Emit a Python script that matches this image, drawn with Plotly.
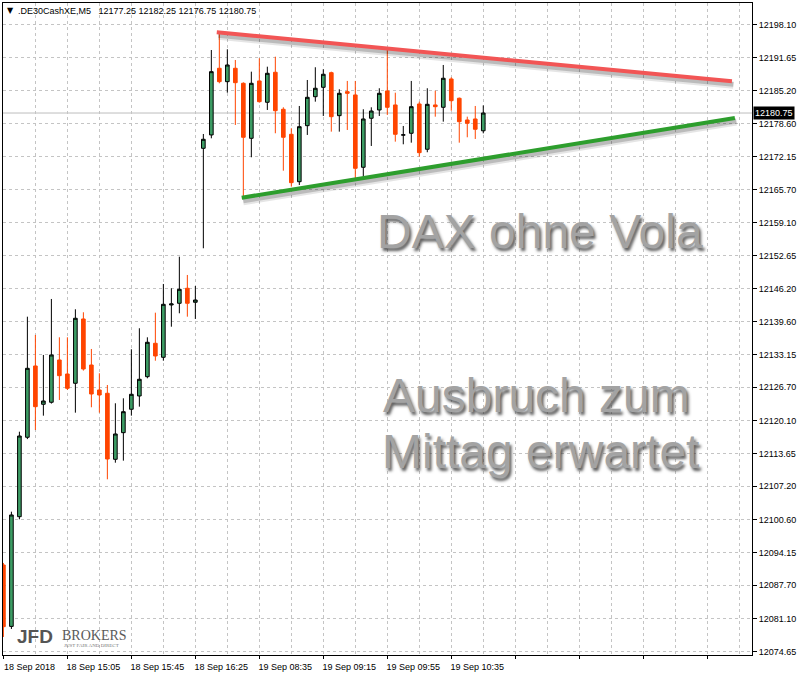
import plotly.graph_objects as go
import pandas as pd

# ---------------- data ----------------
day1_times = pd.date_range("2018-09-18 14:25", periods=25, freq="5min")
day2_times = pd.date_range("2018-09-19 08:00", periods=36, freq="5min")
bar_times = list(day1_times) + list(day2_times)

opens = [12091.70, 12079.60, 12101.21, 12116.86, 12130.91, 12123.36, 12123.76, 12132.09, 12129.33, 12127.50,
         12140.17, 12131.10, 12126.18, 12125.53, 12112.52, 12117.77, 12122.38, 12125.00, 12128.80, 12135.38,
         12132.62, 12142.93, 12143.26, 12146.22, 12143.46,
         12173.80, 12176.43, 12189.57, 12186.93, 12189.57, 12186.61, 12175.77, 12187.07, 12182.87, 12188.78,
         12181.49, 12176.56, 12167.22, 12178.26, 12183.97, 12185.82, 12188.70, 12180.23, 12184.96, 12184.31,
         12170.06, 12179.72, 12181.35, 12185.10, 12182.34, 12176.40, 12176.76, 12182.53, 12173.61, 12182.34,
         12181.88, 12187.46, 12183.66, 12179.38, 12179.58, 12177.25]
highs = [12092.10, 12102.20, 12117.96, 12140.62, 12137.02, 12133.08, 12144.11, 12136.56, 12136.56, 12142.08,
         12141.49, 12134.26, 12129.47, 12127.16, 12123.56, 12124.54, 12134.20, 12138.34, 12136.56, 12141.41,
         12147.07, 12146.22, 12152.44, 12148.84, 12146.67,
         12176.62, 12193.17, 12196.46, 12193.31, 12191.20, 12186.80, 12188.90, 12191.54, 12189.88, 12191.85,
         12181.88, 12177.75, 12182.14, 12187.26, 12189.77, 12189.37, 12188.90, 12185.43, 12187.07, 12187.07,
         12181.49, 12181.88, 12185.63, 12193.31, 12184.76, 12178.20, 12187.07, 12182.99, 12185.63, 12185.15,
         12190.22, 12187.79, 12183.80, 12180.03, 12182.14, 12182.25]
lows = [12077.51, 12079.09, 12100.70, 12116.50, 12118.30, 12121.12, 12123.50, 12124.21, 12126.18, 12121.71,
        12130.00, 12122.77, 12121.71, 12108.58, 12111.85, 12112.25, 12121.12, 12122.89, 12128.48, 12131.95,
        12131.95, 12138.65, 12141.29, 12140.62, 12140.17,
        12154.10, 12175.77, 12186.61, 12184.76, 12178.40, 12164.27, 12172.03, 12182.80, 12181.35, 12176.76,
        12169.39, 12166.24, 12166.57, 12176.43, 12182.99, 12180.17, 12177.08, 12177.08, 12177.41, 12167.89,
        12168.21, 12174.26, 12180.17, 12180.37, 12175.11, 12174.59, 12174.91, 12172.15, 12173.02, 12180.03,
        12179.05, 12181.21, 12174.91, 12175.97, 12175.64, 12176.75]
closes = [12079.54, 12101.55, 12117.11, 12130.45, 12122.89, 12124.01, 12133.08, 12129.00, 12126.51, 12140.31,
          12130.32, 12125.39, 12125.19, 12112.58, 12117.51, 12121.90, 12125.33, 12128.29, 12135.58, 12132.88,
          12143.06, 12143.13, 12146.02, 12143.26, 12143.91,
          12175.58, 12188.90, 12186.93, 12190.22, 12186.73, 12175.97, 12186.61, 12182.99, 12188.58, 12181.21,
          12175.97, 12167.03, 12178.06, 12183.85, 12185.63, 12188.39, 12180.03, 12184.64, 12184.64, 12169.86,
          12179.58, 12181.15, 12184.64, 12181.88, 12176.56, 12176.45, 12182.00, 12172.94, 12182.47, 12182.00,
          12187.60, 12183.18, 12179.05, 12178.73, 12177.55, 12180.75]

price_ticks = [12198.10, 12191.65, 12185.20, 12178.60, 12172.15, 12165.70, 12159.10, 12152.65, 12146.20,
               12139.60, 12133.15, 12126.70, 12120.10, 12113.65, 12107.20, 12100.60, 12094.15, 12087.70,
               12081.10, 12074.65]
time_tick_labels = ["18 Sep 2018", "18 Sep 15:05", "18 Sep 15:45", "18 Sep 16:25",
                    "19 Sep 08:35", "19 Sep 09:15", "19 Sep 09:55", "19 Sep 10:35"]

last_price = 12180.75
header_text = ".DE30CashXE,M5\u00a0\u00a0 12177.25 12182.25 12176.75 12180.75"

# trend lines (bar index, price)
upper_line = [(26.68, 12196.66), (91.09, 12186.99)]
lower_line = [(29.80, 12164.07), (91.46, 12179.76)]

# ---------------- figure ----------------
x_idx = list(range(len(bar_times)))
n_future = 94
x_range = [-0.05, 93.6]
y_range = [12073.96, 12202.43]

GREEN = "#3c9c64"
RED = "#ff4500"
GRID = "#c4c4c4"
FONT = "Liberation Sans, Arial, sans-serif"

fig = go.Figure()
fig.add_trace(go.Candlestick(
    x=x_idx, open=opens, high=highs, low=lows, close=closes,
    increasing=dict(fillcolor=GREEN, line=dict(color="black", width=1)),
    decreasing=dict(fillcolor=RED, line=dict(color=RED, width=1)),
    whiskerwidth=0, showlegend=False, hoverinfo="skip",
))

# last price line
fig.add_shape(type="line", xref="paper", x0=0, x1=1, yref="y", y0=last_price, y1=last_price,
              line=dict(color="#bdbdbd", width=1), layer="below")

# trend lines with soft shadow
px_per_x = 8.0
px_per_y = 652 / (y_range[1] - y_range[0])
for line, color in [(upper_line, "#f25555"), (lower_line, "#2d9e2d")]:
    (xa, ya), (xb, yb) = line
    for off, alpha, w in [(4, 0.10, 7), (3, 0.18, 5)]:
        fig.add_shape(type="line", x0=xa + 1.5 / px_per_x, y0=ya - off / px_per_y,
                      x1=xb + 1.5 / px_per_x, y1=yb - off / px_per_y,
                      line=dict(color=f"rgba(0,0,0,{alpha})", width=w))
    fig.add_shape(type="line", x0=xa, y0=ya, x1=xb, y1=yb, line=dict(color=color, width=4))

big_font = dict(family=FONT, size=48, color="#a3a3a3", shadow="2px 3px 3px rgba(40,40,40,0.75)")
fig.add_annotation(x=67.1, y=12157.4, xref="x", yref="y", text="DAX ohne Vola", showarrow=False,
                   font=big_font, xanchor="center", yanchor="middle")
fig.add_annotation(x=66.6, y=12125.0, xref="x", yref="y", text="Ausbruch zum", showarrow=False,
                   font=big_font, xanchor="center", yanchor="middle")
fig.add_annotation(x=67.2, y=12114.1, xref="x", yref="y", text="Mittag erwartet", showarrow=False,
                   font=big_font, xanchor="center", yanchor="middle")

# header
fig.add_annotation(xref="paper", yref="paper", x=0, y=1, xanchor="left", yanchor="top",
                   xshift=2, yshift=-1, text="\u25bc", showarrow=False,
                   font=dict(family="DejaVu Sans", size=8, color="black"))
fig.add_annotation(xref="paper", yref="paper", x=0, y=1, xanchor="left", yanchor="top",
                   xshift=13, yshift=-1, text=header_text, showarrow=False,
                   font=dict(family=FONT, size=9, color="black"))

# current price label
fig.add_annotation(xref="paper", yref="y", x=1, y=last_price, xanchor="left", yanchor="middle",
                   xshift=1, text=f"{last_price:.2f}", showarrow=False, bgcolor="black",
                   borderpad=1, font=dict(family=FONT, size=9, color="white"))

# logo
fig.add_annotation(xref="paper", yref="paper", x=0, y=0, xanchor="left", yanchor="bottom",
                   xshift=12, yshift=6, text="<b>JFD</b>", showarrow=False,
                   font=dict(family=FONT, size=19, color="#555555"))
fig.add_annotation(xref="paper", yref="paper", x=0, y=0, xanchor="left", yanchor="bottom",
                   xshift=57, yshift=10, text="BROKERS", showarrow=False,
                   font=dict(family="Liberation Serif, serif", size=14, color="#5a5a5a"))
fig.add_annotation(xref="paper", yref="paper", x=0, y=0, xanchor="left", yanchor="bottom",
                   xshift=59, yshift=5, text="JUST FAIR AND DIRECT", showarrow=False,
                   font=dict(family="Liberation Serif, serif", size=5, color="#777777"))

major_x = list(range(0, n_future, 8))
major_text = [time_tick_labels[i] if i < len(time_tick_labels) else "" for i in range(len(major_x))]

fig.update_layout(
    width=800, height=675,
    margin=dict(l=3, r=48, t=3, b=20, autoexpand=False),
    paper_bgcolor="white", plot_bgcolor="white",
    boxgap=0.35,
    font=dict(family=FONT, size=9, color="black"),
    xaxis=dict(
        range=x_range, rangeslider=dict(visible=False),
        tickmode="array", tickvals=major_x, ticktext=major_text,
        ticks="outside", ticklen=3, tickcolor="black",
        ticklabelshift=26, ticklabelstandoff=0,
        showgrid=True, gridcolor=GRID, griddash="3px,3px", gridwidth=1,
        minor=dict(tickvals=list(range(0, n_future, 4)), showgrid=True, gridcolor=GRID,
                   griddash="3px,3px", ticks=""),
        showline=True, linecolor="black", linewidth=1, mirror=True,
        zeroline=False, fixedrange=True,
    ),
    yaxis=dict(
        range=y_range, side="right",
        tickmode="array", tickvals=price_ticks, ticktext=[f"{v:.2f}" for v in price_ticks],
        ticks="outside", ticklen=4, tickcolor="black",
        showgrid=True, gridcolor=GRID, griddash="3px,3px", gridwidth=1,
        showline=True, linecolor="black", linewidth=1, mirror=True,
        zeroline=False, fixedrange=True,
    ),
)

fig.write_html("out.html", config={"displayModeBar": False, "staticPlot": True},
               post_script="document.body.style.margin='0px';document.body.style.overflow='hidden';")
